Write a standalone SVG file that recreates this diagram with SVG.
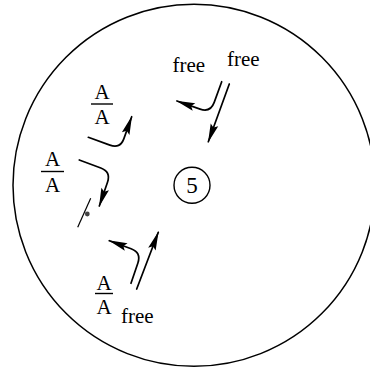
<svg xmlns="http://www.w3.org/2000/svg" width="370" height="373" viewBox="0 0 370 373">
<style>
.t{font-family:"Liberation Serif","Times New Roman",serif;font-size:21px;fill:#000}
.c{text-anchor:middle}
.ln{fill:none;stroke:#000;stroke-width:1.7;stroke-linecap:round;stroke-linejoin:round}
.bar{stroke:#000;stroke-width:1.4}
</style>
<defs>
<marker id="ah" viewBox="0 0 19 8" refX="18" refY="4" markerWidth="19" markerHeight="8" markerUnits="userSpaceOnUse" orient="auto" overflow="visible">
<path d="M0,0 L19,4 L0,8 L3,4 Z" fill="#000"/>
</marker>
</defs>
<rect width="370" height="373" fill="#fff"/>
<g id="boundary"><circle cx="194" cy="185.3" r="181" fill="none" stroke="#000" stroke-width="1.5"/></g>
<g id="node5">
<circle cx="192" cy="185.3" r="18" fill="none" stroke="#000" stroke-width="1.4"/>
<text class="t c" x="192" y="193" style="font-size:23px">5</text>
</g>
<g id="frac1">
<text class="t c" x="102" y="99">A</text>
<line class="bar" x1="91" y1="104" x2="113" y2="104"/>
<text class="t c" x="102" y="124.3">A</text>
</g>
<g id="frac2">
<text class="t c" x="52.5" y="166">A</text>
<line class="bar" x1="41" y1="171.5" x2="64" y2="171.5"/>
<text class="t c" x="52.5" y="192.3">A</text>
</g>
<g id="frac3">
<text class="t c" x="104" y="289.5">A</text>
<line class="bar" x1="95" y1="293.5" x2="113" y2="293.5"/>
<text class="t c" x="104" y="314">A</text>
</g>
<g id="free1"><text class="t" x="172.5" y="72">free</text></g>
<g id="free2"><text class="t" x="227" y="66">free</text></g>
<g id="free3"><text class="t" x="121" y="322.7">free</text></g>
<g id="connectors">
<path class="ln" marker-end="url(#ah)" d="M221.7,81.7 L214.2,102.4 Q210.5,112.7 200.1,109.1 L177,101"/>
<path class="ln" marker-end="url(#ah)" d="M229.3,84 L208.3,141.7"/>
<path class="ln" marker-end="url(#ah)" d="M88.3,137.3 L109.9,145.1 Q120.2,148.9 123.9,138.6 L131.7,116.7"/>
<path class="ln" marker-end="url(#ah)" d="M79.3,160 L100.8,168 Q111.1,171.8 107.5,182.2 L99.3,206"/>
<path class="ln" marker-end="url(#ah)" d="M131,283.3 L137.9,263 Q141.4,252.6 131.1,248.8 L109.3,240.7"/>
<path class="ln" marker-end="url(#ah)" d="M136.7,289 L158.3,232.3"/>
<line x1="90.7" y1="198.3" x2="77.7" y2="227.3" stroke="#000" stroke-width="1.2"/>
<circle cx="87.3" cy="214" r="2.4" fill="#444"/>
</g>
</svg>
